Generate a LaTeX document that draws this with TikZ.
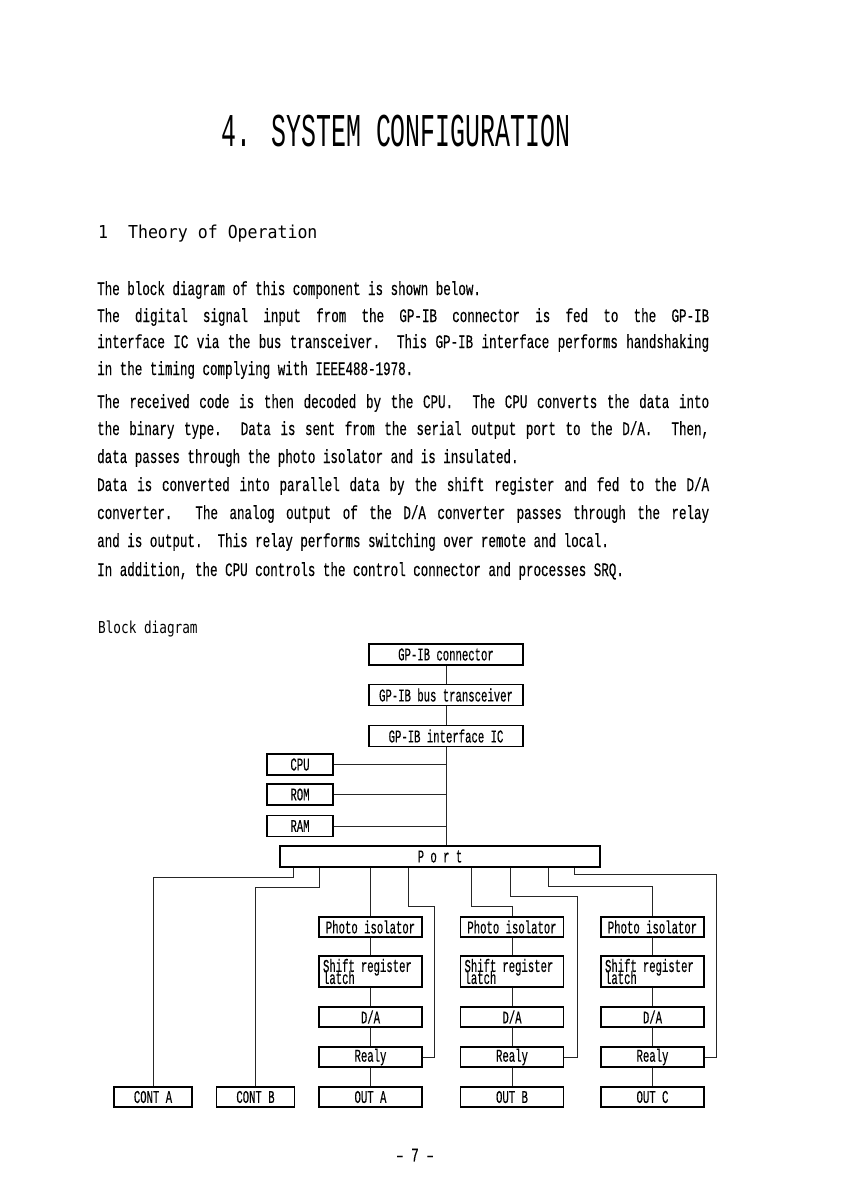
\documentclass[tikz,border=0pt]{standalone}
\usepackage{fontspec}
\setmainfont{Liberation Serif}
\newfontfamily\titlefont[FakeStretch=0.53]{Liberation Mono}
\newfontfamily\headfont[FakeStretch=0.93]{DejaVu Sans Mono}
\newfontfamily\subheadfont[FakeStretch=0.77]{DejaVu Sans Mono}
\newfontfamily\bodyfont[FakeStretch=0.66,FakeBold=0.3]{Liberation Mono}
\newfontfamily\diagfont[FakeStretch=0.59,FakeBold=0.3]{Liberation Mono}
\protected\def\tightskip{\lineskiplimit=-100pt\relax}

\begin{document}
\begin{tikzpicture}[x=1pt, y=-1pt,
        box/.style = {rectangle, draw=black, line width=1.1pt, inner sep=0pt, font=\diagfont\fontsize{18}{18}\selectfont},
        bus/.style = {box, minimum width=154pt, minimum height=21pt},
        mem/.style = {box, minimum width=66pt, minimum height=21pt},
        stage/.style = {box, minimum width=103pt, minimum height=20pt},
        latchbox/.style = {box, text width=95pt, inner xsep=4pt, minimum height=31pt, align=left, font=\diagfont\fontsize{18}{12}\selectfont\tightskip},
        ctrl/.style = {box, minimum width=78pt, minimum height=20pt},
        wire/.style = {line width=0.8pt, black!85},
        txt/.style = {anchor=base west, inner sep=0pt, font=\bodyfont\fontsize{19}{19}\selectfont}
    ]
    \fill[white] (0,0) rectangle (846,1192);
    \useasboundingbox (0,0) rectangle (846,1192);

    % ================= TITULO Y TEXTO =================
    \node[anchor=base, inner sep=0pt, font=\titlefont\fontsize{47}{47}\selectfont] (title) at (396,146) {4. SYSTEM CONFIGURATION};
    \node[anchor=base west, inner sep=0pt, font=\headfont\fontsize{17.8}{17.8}\selectfont] (section) at (98,238) {1\ \ Theory of Operation};

    \node[txt] (l1) at (97,295) {The block diagram of this component is shown below.};
    \node[txt] (l2) at (97,322) {\makebox[612pt][s]{The digital signal input from the GP-IB connector is fed to the GP-IB}};
    \node[txt] (l3) at (97,348) {\makebox[612pt][s]{interface IC via the bus transceiver.\ \ This GP-IB interface performs handshaking}};
    \node[txt] (l4) at (97,375) {in the timing complying with IEEE488-1978.};
    \node[txt] (l5) at (97,408) {\makebox[612pt][s]{The received code is then decoded by the CPU.\ \ The CPU converts the data into}};
    \node[txt] (l6) at (97,435) {\makebox[612pt][s]{the binary type.\ \ Data is sent from the serial output port to the D/A.\ \ Then,}};
    \node[txt] (l7) at (97,463) {data passes through the photo isolator and is insulated.};
    \node[txt] (l8) at (97,491) {\makebox[612pt][s]{Data is converted into parallel data by the shift register and fed to the D/A}};
    \node[txt] (l9) at (97,519) {\makebox[612pt][s]{converter.\ \ The analog output of the D/A converter passes through the relay}};
    \node[txt] (l10) at (97,547) {and is output.\ \ This relay performs switching over remote and local.};
    \node[txt] (l11) at (97,576) {In addition, the CPU controls the control connector and processes SRQ.};

    \node[anchor=base west, inner sep=0pt, font=\subheadfont\fontsize{16.5}{16.5}\selectfont] (blocktitle) at (98,633) {Block diagram};

    % ================= PARTE SUPERIOR: GP-IB =================
    \node[bus] (conn) at (446,654.5) {GP-IB connector};
    \node[bus] (trans) at (446,695) {GP-IB bus transceiver};
    \node[bus] (iface) at (446,736) {GP-IB interface IC};

    \node[mem] (cpu) at (300,764.5) {CPU};
    \node[mem] (rom) at (300,794.5) {ROM};
    \node[mem] (ram) at (300,826) {RAM};

    \node[box, minimum width=320pt, minimum height=21pt] (port) at (440,856.5) {P o r t};

    \draw[wire] (conn) -- (trans);
    \draw[wire] (trans) -- (iface);
    \draw[wire] (iface.south) -- (iface.south |- port.north);
    \draw[wire] (cpu.east) -- (cpu.east -| iface.south);
    \draw[wire] (rom.east) -- (rom.east -| iface.south);
    \draw[wire] (ram.east) -- (ram.east -| iface.south);

    % ================= PARTE INFERIOR: SALIDAS =================
    \node[ctrl] (contA) at (153,1097) {CONT A};
    \node[ctrl] (contB) at (255.5,1097) {CONT B};

    \node[stage] (photoA) at (370.5,927) {Photo isolator};
    \node[latchbox] (shiftA) at (370.5,971.5) {Shift register\\latch};
    \node[stage] (daA) at (370.5,1017) {D/A};
    \node[stage] (realyA) at (370.5,1057) {Realy};
    \node[stage] (outA) at (370.5,1097) {OUT A};

    \node[stage] (photoB) at (512,927) {Photo isolator};
    \node[latchbox] (shiftB) at (512,971.5) {Shift register\\latch};
    \node[stage] (daB) at (512,1017) {D/A};
    \node[stage] (realyB) at (512,1057) {Realy};
    \node[stage] (outB) at (512,1097) {OUT B};

    \node[stage] (photoC) at (652.5,927) {Photo isolator};
    \node[latchbox] (shiftC) at (652.5,971.5) {Shift register\\latch};
    \node[stage] (daC) at (652.5,1017) {D/A};
    \node[stage] (realyC) at (652.5,1057) {Realy};
    \node[stage] (outC) at (652.5,1097) {OUT C};

    \draw[wire] (photoA) -- (shiftA) -- (daA) -- (realyA) -- (outA);
    \draw[wire] (photoB) -- (shiftB) -- (daB) -- (realyB) -- (outB);
    \draw[wire] (photoC) -- (shiftC) -- (daC) -- (realyC) -- (outC);

    % Lineas desde el puerto
    \draw[wire] ([xshift=14pt]port.south west) -- ++(0,10) -| (contA.north);
    \draw[wire] ([xshift=40pt]port.south west) -- ++(0,20) -| (contB.north);
    \draw[wire] (photoA.north |- port.south) -- (photoA.north);
    \draw[wire] ([xshift=129pt]port.south west) -- ++(0,39) -| ([xshift=12pt]realyA.east) -- (realyA.east);
    \draw[wire] ([xshift=192pt]port.south west) -- ++(0,39) -| (photoB.north);
    \draw[wire] ([xshift=231pt]port.south west) -- ++(0,29) -| ([xshift=13pt]realyB.east) -- (realyB.east);
    \draw[wire] ([xshift=269pt]port.south west) -- ++(0,19) -| (photoC.north);
    \draw[wire] ([xshift=295pt]port.south west) -- ++(0,7) -| ([xshift=12pt]realyC.east) -- (realyC.east);

    \node[font=\bodyfont\fontsize{19}{19}\selectfont, inner sep=0pt] (page) at (415,1155) {\textendash{} 7 \textendash};
\end{tikzpicture}
\end{document}
